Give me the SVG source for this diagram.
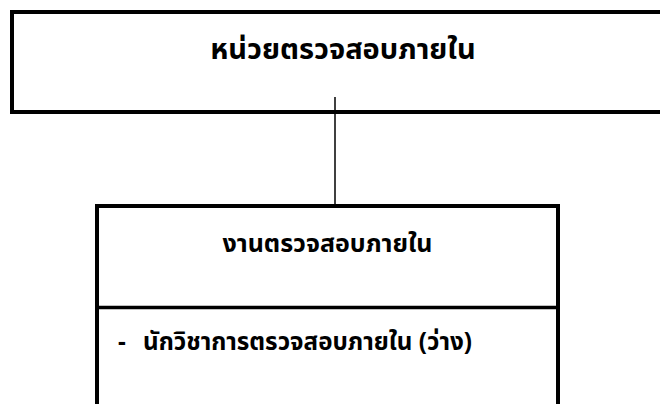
<svg xmlns="http://www.w3.org/2000/svg" width="660" height="404" viewBox="0 0 660 404">
<style>
.box{fill:#fff;stroke:#000;stroke-width:4}
.div{stroke:#000;stroke-width:3.5}
.conn{stroke:#000;stroke-width:1.5;fill:none}
.t{font-family:"Noto Sans Thai","Noto Sans","DejaVu Sans",sans-serif;font-weight:bold;fill:#000}
</style>
<rect width="660" height="404" fill="#fff"/>
<g id="node-top">
<rect class="box" x="12" y="12" width="664" height="100"/>
<text class="t" x="343" y="59" font-size="29" text-anchor="middle">หน่วยตรวจสอบภายใน</text>
</g>
<g id="connectors">
<line class="conn" x1="335" y1="97" x2="335" y2="206"/>
</g>
<g id="node-bottom">
<rect class="box" x="97" y="206" width="461" height="210"/>
<line class="div" x1="97" y1="307.5" x2="558" y2="307.5"/>
<text class="t" x="327.5" y="252" font-size="25" text-anchor="middle">งานตรวจสอบภายใน</text>
<text class="t" y="350" font-size="24.2"><tspan x="118">-</tspan><tspan x="143">นักวิชาการตรวจสอบภายใน (ว่าง)</tspan></text>
</g>
</svg>
